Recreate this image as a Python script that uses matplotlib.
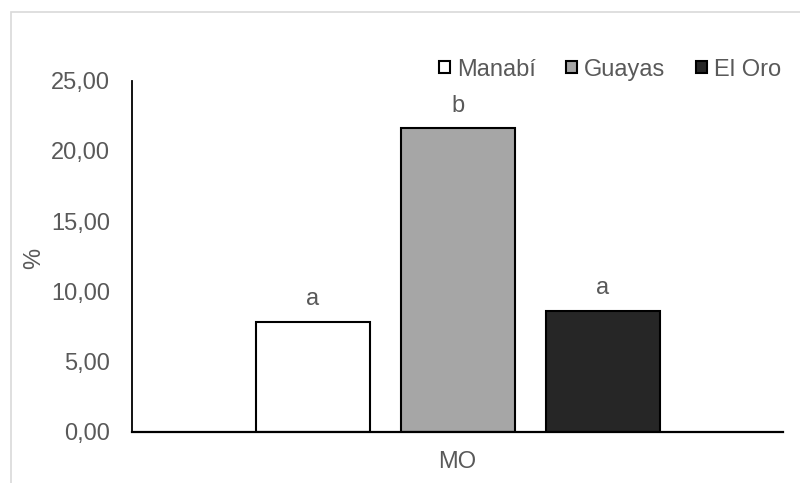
import matplotlib
matplotlib.use("Agg")
import matplotlib.pyplot as plt
from matplotlib.patches import Patch, Rectangle

# data
provinces = ["Manabí", "Guayas", "El Oro"]
values = [7.83, 21.61, 8.62]
letters = ["a", "b", "a"]
colors = ["#ffffff", "#a6a6a6", "#262626"]
category = "MO"
yticks = [0, 5, 10, 15, 20, 25]

plt.rcParams["font.family"] = ["Liberation Sans", "DejaVu Sans"]
txt = "#595959"
fs = 17

fig = plt.figure(figsize=(8, 4.83), dpi=100)
ax = fig.add_axes([0.165, 0.1056, 0.814, 0.7273])

offsets = [-1, 0, 1]
width = 0.786
for off, v, c, lab, let in zip(offsets, values, colors, provinces, letters):
    ax.bar(off, v, width=width, color=c, edgecolor="black", linewidth=1.5, label=lab)
    ax.annotate(let, (off, v), xytext=(0, 12), textcoords="offset points",
                ha="center", va="baseline", fontsize=fs, color=txt)

ax.set_xlim(-2.245, 2.245)
ax.set_ylim(0, 25)
ax.set_yticks(yticks)
ax.set_yticklabels([f"{t:.2f}".replace(".", ",") for t in yticks])
ax.set_xticks([0])
ax.set_xticklabels([category])
ax.tick_params(axis="y", length=0, pad=16, labelsize=fs, labelcolor=txt)
ax.tick_params(axis="x", length=0, pad=14, labelsize=fs, labelcolor=txt)

for s in ["top", "right"]:
    ax.spines[s].set_visible(False)
ax.spines["left"].set_linewidth(1.3)
ax.spines["bottom"].set_linewidth(1.6)

ax.set_ylabel("%", fontsize=fs, color=txt)
ax.yaxis.set_label_coords(-0.133, 0.495)

handles = [Patch(facecolor=c, edgecolor="black", linewidth=1.5) for c in colors]
fig.legend(handles, provinces, loc="center right", bbox_to_anchor=(0.976, 0.856),
           ncol=3, frameon=False, fontsize=fs, labelcolor=txt,
           handlelength=0.45, handleheight=0.45, handletextpad=0.3,
           columnspacing=1.3, borderaxespad=0, borderpad=0)

# light chart-area border, cut off at right and bottom
fig.add_artist(Rectangle((11 / 800, -0.1), 2, 1 - 12 / 483 + 0.1,
                         transform=fig.transFigure, fill=False,
                         edgecolor="#d9d9d9", linewidth=1.2))

fig.savefig("out.png", dpi=100)
